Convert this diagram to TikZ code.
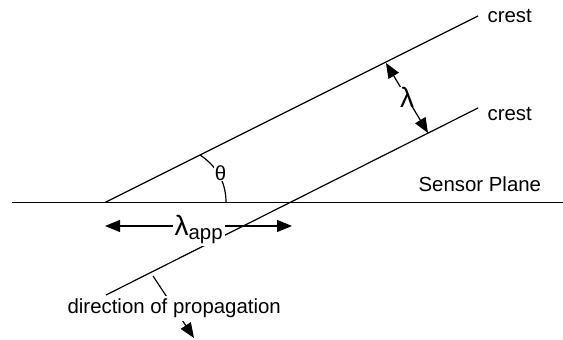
\documentclass[tikz,border=0pt]{standalone}
\usepackage{fontspec}
\setmainfont{Liberation Sans}
\usetikzlibrary{arrows.meta}
\newcommand{\lam}{{\fontsize{14}{14}\selectfont λ}}

\begin{document}
\begin{tikzpicture}[x=0.5pt,y=-0.5pt,line width=0.6pt,
  >={Triangle[length=7.5pt,width=6pt]},
  rotulo/.style={font=\fontsize{10.2}{12}\selectfont,inner sep=0pt},
  tapa/.style={rotulo,fill=white,inner sep=1.5pt}]
  \useasboundingbox (0,0) rectangle (563,340);
  % plano del sensor
  \coordinate (p0) at (12,202.5);
  \coordinate (p1) at (563,202.5);
  \draw (p0) -- (p1);
  \node[rotulo,anchor=base west] (plano) at (418,192) {Sensor Plane};
  % crestas
  \coordinate (c1a) at (105,202.5);
  \coordinate (c1b) at (478,16);
  \coordinate (c2a) at (106,295);
  \coordinate (c2b) at (478,108);
  \draw (c1a) -- (c1b);
  \draw (c2a) -- (c2b);
  \node[rotulo,anchor=base west] (cresta1) at (487,23) {crest};
  \node[rotulo,anchor=base west] (cresta2) at (487,121) {crest};
  % longitud de onda
  \coordinate (l1) at (386,63);
  \coordinate (l2) at (428,133);
  \draw[<->] (l1) -- (l2);
  \node[tapa,inner sep=0pt] (lam) at (407,97) {\lam};
  % angulo
  \coordinate (t1) at (200,155);
  \coordinate (t2) at (226,202.5);
  \draw (t1) .. controls (215,165) and (226,180) .. (t2);
  \node[tapa,inner sep=0.5pt] (theta) at (220.5,173) {θ};
  % longitud aparente
  \coordinate (a1) at (105,226);
  \coordinate (a2) at (292,226);
  \draw[<->] (a1) -- (a2);
  \node[tapa,anchor=base west,inner sep=1pt] (lapp) at (172,236) {\lam\raisebox{-2pt}{app}};
  % direccion de propagacion
  \coordinate (d1) at (153,276);
  \coordinate (d2) at (194,338);
  \draw[->] (d1) -- (d2);
  \node[tapa,anchor=base west] (dir) at (64,314) {direction of propagation};
\end{tikzpicture}
\end{document}
